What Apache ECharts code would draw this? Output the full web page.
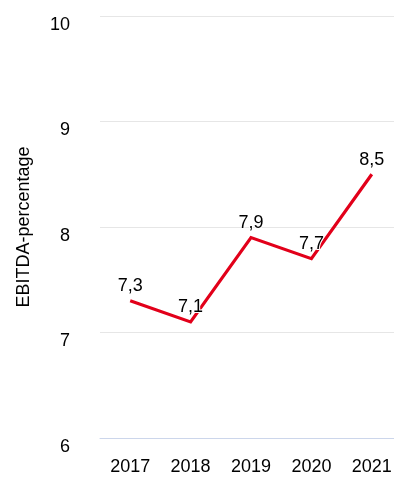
<!DOCTYPE html>
<html><head><meta charset="utf-8">
<script src="https://cdn.jsdelivr.net/npm/echarts@6/dist/echarts.min.js"></script>
<style>html,body{margin:0;padding:0;background:#fff}#c{width:394px;height:480px}</style>
</head><body><div id="c"></div>
<script>
var categories = ['2017','2018','2019','2020','2021'];
var values = [7.3, 7.1, 7.9, 7.7, 8.5];
var yTicks = [6, 7, 8, 9, 10];
var yTitle = 'EBITDA-percentage';

var chart = echarts.init(document.getElementById('c'), null, {renderer:'canvas'});
var font = '"Liberation Sans", Arial, Helvetica, sans-serif';
chart.setOption({
  animation:false,
  grid:{left:100, width:302, top:16, bottom:42, containLabel:false, outerBoundsMode:'none'},
  xAxis:{type:'category', data:categories, boundaryGap:true,
    axisLine:{lineStyle:{color:'#ccd6eb', width:1}},
    axisTick:{show:false},
    axisLabel:{color:'#000', fontSize:18, fontFamily:font, margin:20}},
  yAxis:{type:'value', min:yTicks[0], max:yTicks[yTicks.length-1], interval:1,
    name:yTitle, nameLocation:'middle', nameGap:67, nameRotate:90,
    nameTextStyle:{color:'#000', fontSize:18, fontFamily:font},
    axisLine:{show:false}, axisTick:{show:false},
    splitLine:{lineStyle:{color:'#e6e6e6', width:1}},
    axisLabel:{color:'#000', fontSize:18, fontFamily:font, margin:30,
      verticalAlign:'top', lineHeight:18,
      formatter:function(v){return String(v);}}},
  series:[{type:'line', data:values, symbol:'circle', symbolSize:1, showSymbol:true,
    itemStyle:{color:'rgba(226,0,26,0)'},
    lineStyle:{color:'#e2001a', width:3.2, join:'miter'},
    label:{show:true, position:'top', distance:5, color:'#000', fontSize:18, fontFamily:font,
      textBorderColor:'#fff', textBorderWidth:2,
      formatter:function(p){return String(p.value).replace('.',',');}}}]
});
</script></body></html>
